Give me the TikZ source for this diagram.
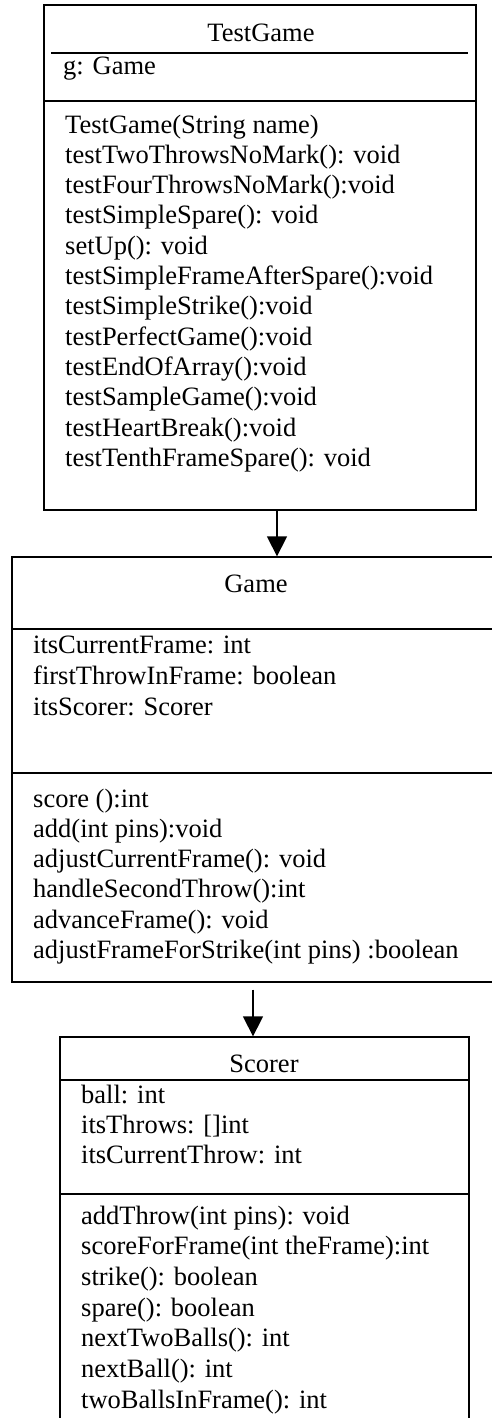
\documentclass[tikz,border=0pt]{standalone}
\usepackage{fontspec}
\setmainfont{Liberation Serif}
\usetikzlibrary{arrows.meta}
\tikzset{
  umlbox/.style={draw, line width=1.3pt, inner sep=0pt, rectangle},
  sepline/.style={line width=1.3pt},
  txt/.style={font=\fontsize{26.5}{30}\selectfont, inner sep=0pt, anchor=base west},
  ttl/.style={font=\fontsize{26.5}{30}\selectfont, inner sep=0pt, anchor=base},
  arr/.style={line width=1.3pt, -{Triangle[length=20pt,width=20pt]}}
}
\begin{document}
\begin{tikzpicture}[x=1pt,y=-1pt]
\useasboundingbox (0,0) rectangle (492,1418);
% TestGame
\node[umlbox, minimum width=432pt, minimum height=505pt] (tg) at (260,257.5) {};
\coordinate (tgl1) at (51,53);
\coordinate (tgl2) at (468,53);
\draw[sepline] (tgl1) -- (tgl2);
\draw[sepline] (tg.west |- 0,101) -- (tg.east |- 0,101);
\node[ttl] (tgtitle) at (261,42) {TestGame};
\node[txt] (tgattr) at (63,75) {g: Game};
\foreach \t [count=\i from 0] in {{TestGame(String name)},{testTwoThrowsNoMark(): void},{testFourThrowsNoMark():void},{testSimpleSpare(): void},{setUp(): void},{testSimpleFrameAfterSpare():void},{testSimpleStrike():void},{testPerfectGame():void},{testEndOfArray():void},{testSampleGame():void},{testHeartBreak():void},{testTenthFrameSpare(): void}}
  \node[txt] (tgm\i) at (65,{133+30.3*\i}) {\t};
% Game
\node[umlbox, minimum width=481pt, minimum height=425pt] (game) at (252.5,769.5) {};
\draw[sepline] (game.west |- 0,629) -- (game.east |- 0,629);
\draw[sepline] (game.west |- 0,773) -- (game.east |- 0,773);
\node[ttl] (gtitle) at (256,592) {Game};
\foreach \t [count=\i from 0] in {{itsCurrentFrame: int},{firstThrowInFrame: boolean},{itsScorer: Scorer}}
  \node[txt] (ga\i) at (33,{653+31*\i}) {\t};
\foreach \t [count=\i from 0] in {{score ():int},{add(int pins):void},{adjustCurrentFrame(): void},{handleSecondThrow():int},{advanceFrame(): void},{adjustFrameForStrike(int pins) :boolean}}
  \node[txt] (gm\i) at (33,{807+30.3*\i}) {\t};
% Scorer
\node[umlbox, minimum width=409pt, minimum height=383pt] (sc) at (264.5,1228.5) {};
\draw[sepline] (sc.west |- 0,1080) -- (sc.east |- 0,1080);
\draw[sepline] (sc.west |- 0,1194) -- (sc.east |- 0,1194);
\node[ttl] (stitle) at (264,1072) {Scorer};
\foreach \t [count=\i from 0] in {{ball: int},{itsThrows: []int},{itsCurrentThrow: int}}
  \node[txt] (sa\i) at (81,{1103+30*\i}) {\t};
\foreach \t [count=\i from 0] in {{addThrow(int pins): void},{scoreForFrame(int theFrame):int},{strike(): boolean},{spare(): boolean},{nextTwoBalls(): int},{nextBall(): int},{twoBallsInFrame(): int}}
  \node[txt] (sm\i) at (81,{1224+30.7*\i}) {\t};
% arrows
\draw[arr] ([xshift=17pt]tg.south) -- ([xshift=17pt]tg.south |- game.north);
\draw[arr] ([xshift=0.5pt,yshift=-7pt]game.south) -- ([xshift=0.5pt]game.south |- sc.north);
\end{tikzpicture}
\end{document}
